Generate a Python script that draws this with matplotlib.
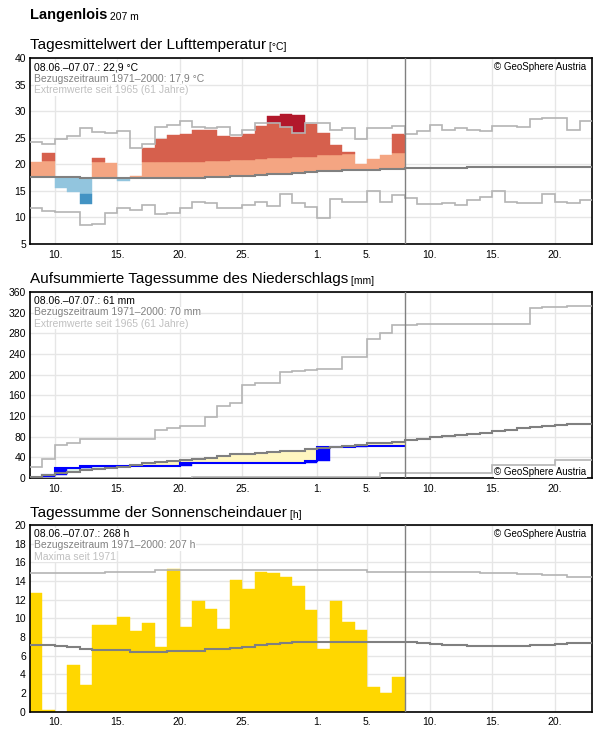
import numpy as np
import matplotlib
matplotlib.use('Agg')
from matplotlib import pyplot as plt

plt.rcParams['font.family'] = ['Liberation Sans', 'DejaVu Sans']

# day 0 = 08.06., observed days 0..29, outlook to 22.07.
n_days = 45
n_obs = 30
tick_pos = [2, 7, 12, 17, 23, 27, 32, 37, 42]
tick_lab = ['10.', '15.', '20.', '25.', '1.', '5.', '10.', '15.', '20.']

# daily mean air temperature (°C)
temp = [20.4, 22.1, 15.6, 14.85, 12.6, 21.2, 20.2, 16.9, 17.85, 23.1,
        24.8, 25.5, 25.7, 26.6, 26.5, 25.4, 25.2, 25.7, 27.2, 29.1,
        29.5, 29.3, 27.6, 25.9, 23.6, 22.4, 20.05, 21.0, 21.75, 25.7]
temp_norm = [17.6, 17.6, 17.7, 17.55, 17.5, 17.5, 17.5, 17.4, 17.4, 17.5,
             17.5, 17.5, 17.5, 17.5, 17.6, 17.7, 17.8, 17.9, 18.0, 18.2,
             18.3, 18.4, 18.5, 18.7, 18.8, 18.9, 19.0, 19.0, 19.1, 19.2,
             19.3, 19.3, 19.35, 19.4, 19.4, 19.45, 19.45, 19.5, 19.5, 19.55,
             19.6, 19.6, 19.6, 19.6, 19.6]
temp_max = [24.3, 23.95, 24.9, 25.4, 26.8, 26.2, 26.0, 26.4, 23.1, 23.8,
            27.0, 27.4, 28.3, 27.1, 26.8, 27.0, 25.6, 26.6, 27.8, 27.8,
            27.0, 25.85, 27.8, 27.8, 26.45, 26.8, 24.9, 26.8, 26.8, 27.3,
            25.8, 26.3, 27.5, 26.6, 26.8, 26.6, 26.3, 27.3, 27.3, 27.1,
            28.5, 28.8, 28.7, 26.6, 28.15]
temp_min = [11.8, 11.3, 11.1, 11.1, 8.6, 8.7, 10.9, 11.7, 11.5, 12.3,
            10.6, 10.9, 11.7, 13.0, 12.7, 11.7, 11.7, 12.45, 12.85, 12.1,
            14.35, 12.7, 11.9, 9.9, 13.5, 12.85, 12.85, 15.0, 13.0, 14.2,
            13.6, 12.55, 12.55, 12.7, 12.35, 13.35, 13.85, 15.0, 13.0, 12.7,
            12.7, 14.5, 12.85, 12.7, 13.3]

# daily precipitation (mm) and cumulative reference curves
precip = [0.5, 6, 12, 0, 4.5, 0, 0, 0, 0, 0,
          0, 0, 5.5, 0, 0, 0, 0, 0, 0, 0,
          0, 0, 3.5, 27.5, 0.5, 0, 1, 0, 0, 0]
precip_norm = [1, 5.8, 9, 12.3, 15.6, 17.5, 20, 22, 24.6, 28.5,
               30.5, 32.4, 34.4, 37.6, 39.5, 42, 46, 46.5, 48, 50,
               52, 53, 55.8, 57.7, 59.7, 61.6, 64.2, 66.8, 67.5, 69.4,
               73.3, 75.8, 78.4, 80.4, 82.3, 85, 87.5, 90.8, 93.4, 96,
               98.6, 101, 102.5, 103.7, 105]
precip_max = [21, 37, 63.5, 68, 76, 76, 76, 76, 76, 76,
              93, 97.5, 100.8, 101, 118.5, 140, 145, 180.7, 184, 184,
              206, 208, 209.5, 211.6, 211.6, 235, 235, 270, 281, 296,
              296, 298.6, 298.6, 298.6, 298.6, 298.6, 298.6, 298.6, 298.6, 298.6,
              329, 331, 331, 333, 333]
precip_min = [0, 0, 0, 0, 0, 0, 0, 0, 0, 0,
              0, 0, 0, 2.5, 2.5, 2.5, 2.5, 2.5, 2.5, 2.5,
              2.5, 2.5, 2.5, 2.5, 2.5, 2.5, 2.5, 2.5, 10, 10,
              10, 10, 10, 10, 10, 10, 10, 25.5, 25.5, 25.5,
              25.5, 25.5, 34, 34, 34]

# daily sunshine duration (h)
sun = [12.7, 0.2, 0, 5.0, 2.85, 9.3, 9.3, 10.15, 8.6, 9.5,
       6.9, 15.3, 9.05, 11.9, 11.0, 8.85, 14.1, 13.1, 14.95, 14.85,
       14.4, 13.5, 10.9, 6.65, 11.8, 9.6, 8.7, 2.6, 2.0, 3.7]
sun_norm = [7.1, 7.1, 7.05, 6.95, 6.75, 6.6, 6.6, 6.6, 6.4, 6.4,
            6.4, 6.5, 6.5, 6.5, 6.65, 6.7, 6.85, 6.95, 7.1, 7.2,
            7.35, 7.4, 7.4, 7.45, 7.45, 7.45, 7.45, 7.4, 7.4, 7.4,
            7.4, 7.3, 7.2, 7.1, 7.1, 7.0, 7.0, 7.0, 7.0, 7.0,
            7.1, 7.1, 7.2, 7.3, 7.3]
sun_max = [14.9, 14.9, 14.9, 14.9, 14.9, 14.9, 15.0, 15.0, 15.0, 15.0,
           15.15, 15.15, 15.15, 15.15, 15.15, 15.15, 15.15, 15.15, 15.15, 15.15,
           15.15, 15.15, 15.15, 15.15, 15.15, 15.15, 15.15, 15.0, 15.0, 15.0,
           15.0, 15.0, 14.95, 14.95, 14.95, 14.95, 14.8, 14.8, 14.8, 14.7,
           14.7, 14.6, 14.6, 14.45, 14.45]

W, H = 596, 729
GRID = '#e6e6e6'
NORM = '#808080'
EXT = '#b4b4b4'

fig = plt.figure(figsize=(W / 100, H / 100), dpi=100)


def box(top, bottom):
    return [30 / W, 1 - bottom / H, 562 / W, (bottom - top) / H]


def style(ax, lo, hi, step):
    ax.set_xlim(0, n_days)
    ax.set_ylim(lo, hi)
    ax.set_yticks(list(range(lo, hi + 1, step)))
    ax.set_xticks(tick_pos)
    ax.set_xticklabels(tick_lab)
    ax.tick_params(length=0, labelsize=7.5)
    ax.tick_params(axis='y', pad=3)
    ax.tick_params(axis='x', pad=4)
    ax.grid(True, color=GRID, lw=1)
    ax.set_axisbelow(True)
    for s in ax.spines.values():
        s.set_linewidth(1.2)
    ax.axvline(n_obs, color=NORM, lw=1, zorder=6)


def bars(ax, x, bottom, top, color, z=2):
    # draw only the days where the band is not empty
    x = np.asarray(x)
    bottom = np.asarray(bottom, dtype=float)
    top = np.asarray(top, dtype=float)
    m = top > bottom + 1e-9
    ax.bar(x[m], (top - bottom)[m], bottom=bottom[m], width=1, align='edge',
           color=color, edgecolor=color, lw=0.3, zorder=z)


def info(ax, lines):
    cols = ['black', NORM, '#c0c0c0']
    for k, (txt, c) in enumerate(zip(lines, cols)):
        ax.annotate(txt, xy=(0, 1), xycoords='axes fraction',
                    xytext=(3, -8.3 - k * 8.4), textcoords='offset points',
                    fontsize=7.5, color=c, va='baseline', ha='left',
                    bbox=dict(facecolor='white', edgecolor='none', pad=0.2),
                    zorder=7)


def copyright(ax, top=True):
    if top:
        ax.annotate('© GeoSphere Austria', xy=(1, 1), xycoords='axes fraction',
                    xytext=(-4, -8.3), textcoords='offset points',
                    fontsize=7, ha='right', va='baseline', zorder=7)
    else:
        ax.annotate('© GeoSphere Austria', xy=(1, 0), xycoords='axes fraction',
                    xytext=(-4, 2), textcoords='offset points',
                    fontsize=7, ha='right', va='baseline', zorder=7,
                    bbox=dict(facecolor='white', edgecolor='none', pad=0.3))


def titled(ax, y, main, unit):
    t = fig.text(30 / W, 1 - y / H, main, fontsize=11, va='baseline')
    ax.annotate(' ' + unit, xy=(1, 0), xycoords=t, fontsize=7.5,
                va='bottom', ha='left', annotation_clip=False)


edges = np.arange(n_days + 1)
x_obs = np.arange(n_obs)

# ---- temperature ----
ax1 = fig.add_axes(box(58.5, 244))
style(ax1, 5, 40, 5)
t = np.array(temp)
nr = np.array(temp_norm[:n_obs])
mx = np.array(temp_max[:n_obs])
bars(ax1, x_obs, nr, np.minimum(t, nr + 3), '#f4a582')
bars(ax1, x_obs, nr + 3, np.minimum(t, mx), '#d6604d')
bars(ax1, x_obs, np.maximum(mx, nr + 3), t, '#b2182b')
bars(ax1, x_obs, np.maximum(t, nr - 3), nr, '#92c5de')
bars(ax1, x_obs, t, nr - 3, '#4393c3')
ax1.stairs(temp_max, edges, baseline=None, color=EXT, lw=1.2, zorder=4)
ax1.stairs(temp_min, edges, baseline=None, color=EXT, lw=1.2, zorder=4)
ax1.stairs(temp_norm, edges, baseline=None, color=NORM, lw=1.5, zorder=5)
info(ax1, ['08.06.–07.07.: 22,9 °C', 'Bezugszeitraum 1971–2000: 17,9 °C',
           'Extremwerte seit 1965 (61 Jahre)'])
copyright(ax1)
titled(ax1, 49, 'Tagesmittelwert der Lufttemperatur', '[°C]')

# header
hd = fig.text(30 / W, 1 - 19.5 / H, 'Langenlois', fontsize=10.5,
              fontweight='bold', va='baseline')
ax1.annotate(' 207 m', xy=(1, 0), xycoords=hd, fontsize=7.5, va='bottom',
             ha='left', annotation_clip=False)

# ---- precipitation ----
ax2 = fig.add_axes(box(292, 478))
style(ax2, 0, 360, 40)
cum = np.cumsum(precip)
pn = np.array(precip_norm[:n_obs])
bars(ax2, x_obs, pn, cum, '#dcf0e4')
bars(ax2, x_obs, cum, pn, '#fff6c0')
bars(ax2, x_obs, cum - np.array(precip), cum, '#0000ff', z=3)
ax2.stairs(cum, edges[:n_obs + 1], baseline=None, color='#0000ff', lw=1.5,
           zorder=4)
ax2.stairs(precip_max, edges, baseline=None, color=EXT, lw=1.2, zorder=4)
ax2.stairs(precip_min, edges, baseline=None, color=EXT, lw=1.2, zorder=4)
ax2.stairs(precip_norm, edges, baseline=None, color=NORM, lw=1.5, zorder=5)
info(ax2, ['08.06.–07.07.: 61 mm', 'Bezugszeitraum 1971–2000: 70 mm',
           'Extremwerte seit 1965 (61 Jahre)'])
copyright(ax2, top=False)
titled(ax2, 283, 'Aufsummierte Tagessumme des Niederschlags', '[mm]')

# ---- sunshine ----
ax3 = fig.add_axes(box(525, 711.5))
style(ax3, 0, 20, 2)
bars(ax3, x_obs, np.zeros(n_obs), sun, '#ffd700')
ax3.stairs(sun_max, edges, baseline=None, color=EXT, lw=1.2, zorder=4)
ax3.stairs(sun_norm, edges, baseline=None, color=NORM, lw=1.5, zorder=5)
info(ax3, ['08.06.–07.07.: 268 h', 'Bezugszeitraum 1971–2000: 207 h',
           'Maxima seit 1971'])
copyright(ax3)
titled(ax3, 516.5, 'Tagessumme der Sonnenscheindauer', '[h]')

fig.savefig('out.png', dpi=100)
